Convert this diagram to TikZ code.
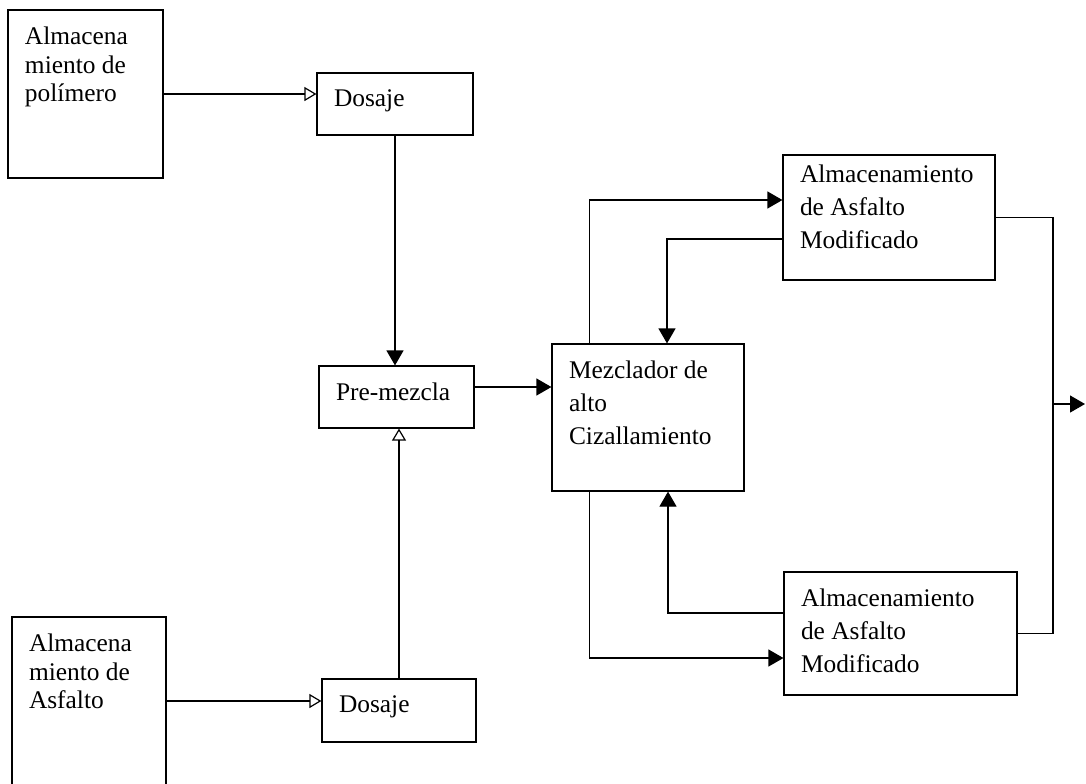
\documentclass[tikz,border=0pt]{standalone}
\usepackage{fontspec}
\setmainfont{Liberation Serif}
\usetikzlibrary{arrows.meta}

\newcommand{\boxtext}[3]{\parbox[c][#2][t]{#1}{#3}}

\begin{document}
\begin{tikzpicture}[x=0.5pt, y=-0.5pt, semithick,
    block/.style = {draw, inner sep=8.5pt, font=\fontsize{12.7}{16.5}\selectfont},
    tank/.style = {block, font=\fontsize{12.7}{14.3}\selectfont},
    feed/.style = {-{Triangle[open, length=6pt, width=7pt]}},
    flow/.style = {-{Triangle[length=7.5pt, width=8.5pt]}}]
    \useasboundingbox (0,0) rectangle (1086,783);

    \node[tank] (poly) at (85.5,94) {\boxtext{60.5pt}{67pt}{Almacena\\miento de\\polímero}};
    \node[block] (dos1) at (395,104) {\boxtext{61pt}{14pt}{Dosaje}};
    \node[block] (pre) at (396.5,397) {\boxtext{60.5pt}{14pt}{Pre-mezcla}};
    \node[tank] (asf) at (89,708.5) {\boxtext{60pt}{74.5pt}{Almacena\\miento de\\Asfalto}};
    \node[block] (dos2) at (399,710.5) {\boxtext{60pt}{14.5pt}{Dosaje}};
    \node[block] (mez) at (648,417.5) {\boxtext{79pt}{56.5pt}{Mezclador de\\alto\\Cizallamiento}};
    \node[block, inner ysep=5pt] (alm1) at (889,217.5) {\boxtext{89pt}{52.5pt}{Almacenamiento\\de Asfalto\\Modificado}};
    \node[block] (alm2) at (900.5,633.5) {\boxtext{99.5pt}{44.5pt}{Almacenamiento\\de Asfalto\\Modificado}};

    \coordinate (bus) at (1053,404);
    \coordinate (exit) at (1085,404);

    \draw[feed] (poly.east) -- (poly.east -| dos1.west);
    \draw[flow] (dos1.south) -- (dos1.south |- pre.north);
    \draw[feed] ([yshift=3.75pt]asf.east) -- ([yshift=3.75pt]asf.east -| dos2.west);
    \draw[feed] (dos2.north) -- (dos2.north |- pre.south);
    \draw[flow] ([yshift=5pt]pre.east) -- ([yshift=5pt]pre.east -| mez.west);

    \draw[flow] ([xshift=19pt]mez.north west) |- ([yshift=8.75pt]alm1.west);
    \draw[flow] ([yshift=-10.75pt]alm1.west) -| ([xshift=9.5pt]mez.north);
    \draw[flow] ([xshift=19pt]mez.south west) |- ([yshift=-12.25pt]alm2.west);
    \draw[flow] ([yshift=10.25pt]alm2.west) -| ([xshift=10pt]mez.south);

    \draw (alm1.east) -| (bus) |- (alm2.east);
    \draw[flow] (bus) -- (exit);
\end{tikzpicture}
\end{document}
